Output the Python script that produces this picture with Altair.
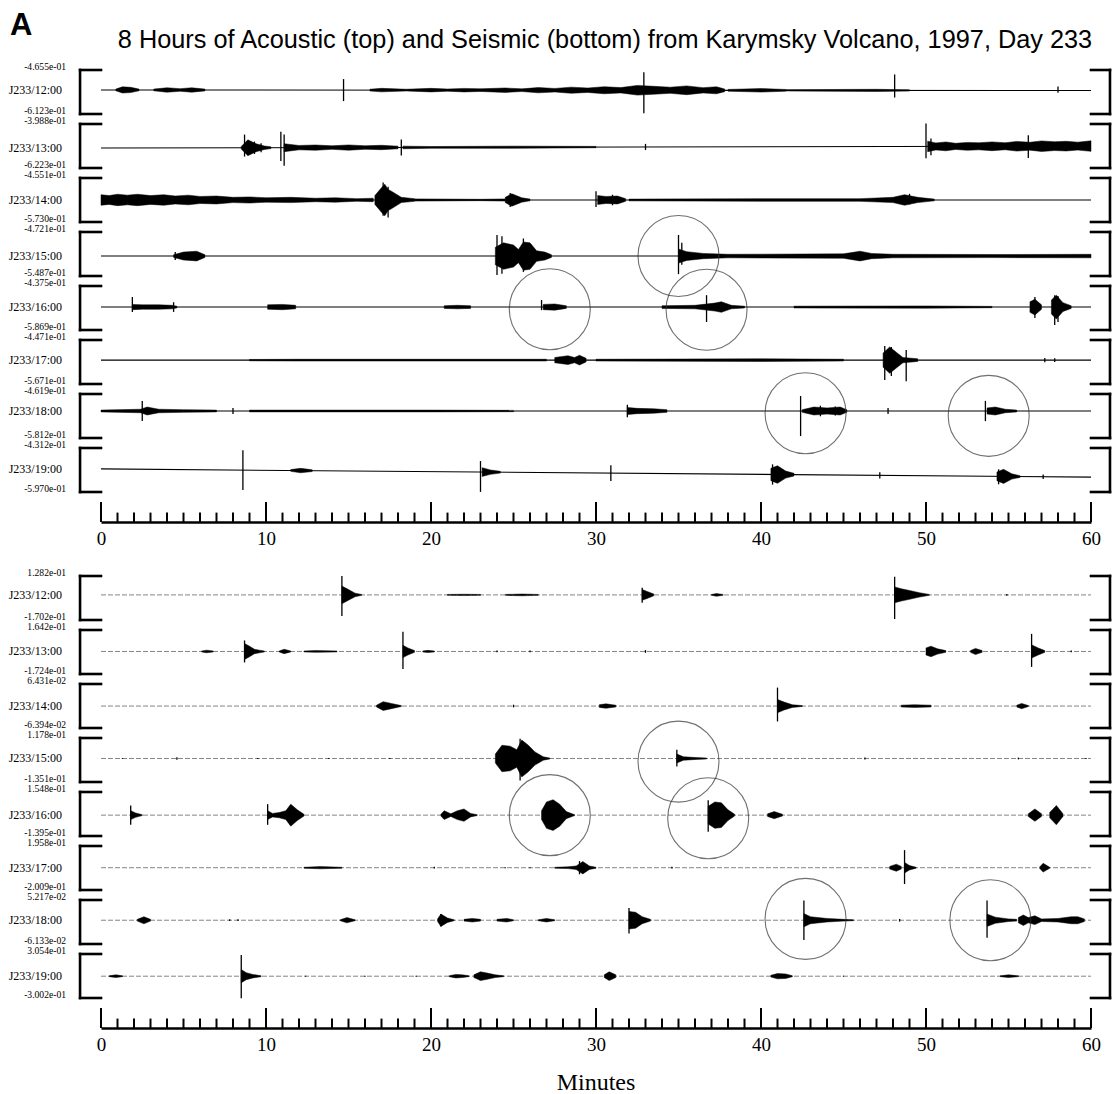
import altair as alt
import pandas as pd

HOURS = ["J233/12:00", "J233/13:00", "J233/14:00", "J233/15:00",
         "J233/16:00", "J233/17:00", "J233/18:00", "J233/19:00"]

# full-scale limits printed beside each trace (top, bottom)
ACOUSTIC_TOP = [-4.655e-01, -3.988e-01, -4.551e-01, -4.721e-01, -4.375e-01, -4.471e-01, -4.619e-01, -4.312e-01]
ACOUSTIC_BOTTOM = [-6.123e-01, -6.223e-01, -5.730e-01, -5.487e-01, -5.869e-01, -5.671e-01, -5.812e-01, -5.970e-01]
SEISMIC_TOP = [1.282e-01, 1.642e-01, 6.431e-02, 1.178e-01, 1.548e-01, 1.958e-01, 5.217e-02, 3.054e-01]
SEISMIC_BOTTOM = [-1.702e-01, -1.724e-01, -6.394e-02, -1.351e-01, -1.395e-01, -2.009e-01, -6.133e-02, -3.002e-01]

# trace offset at minute 0 and minute 60
ACOUSTIC_LEVEL = [(-0.532, -0.534), (-0.521, -0.511), (-0.514, -0.514), (-0.514, -0.514),
                  (-0.509, -0.509), (-0.502, -0.502), (-0.508, -0.508), (-0.510, -0.541)]
SEISMIC_LEVEL = [(0.0, 0.0)] * 8

# impulsive arrivals: (minute, peak above, peak below) in % of the trace's full scale
ACOUSTIC_SPIKES = [
    [(14.7, 25, 25), (32.9, 41, 52), (48.1, 36, 16), (58.0, 9, 5)],
    [(8.7, 30, 20), (9.3, 14, 14), (9.7, 10, 10), (10.9, 36, 30), (11.1, 30, 41), (18.2, 18, 18),
     (33.0, 7, 7), (50.0, 52, 27), (50.3, 18, 20), (56.2, 25, 27), (58.6, 9, 9)],
    [(17.1, 40, 36), (17.4, 30, 40), (24.8, 16, 16), (30.0, 20, 16), (31.0, 12, 12), (49.0, 14, 10)],
    [(4.5, 9, 9), (24.0, 48, 43), (24.3, 45, 40), (25.6, 40, 36), (35.0, 48, 41), (35.2, 30, 20)],
    [(1.9, 23, 11), (4.4, 11, 11), (26.7, 16, 7), (36.7, 27, 34), (56.6, 23, 25), (57.8, 27, 41), (58.0, 25, 34)],
    [(47.5, 32, 45), (47.9, 30, 36), (48.8, 23, 48), (57.2, 5, 5), (57.8, 4, 4)],
    [(2.5, 23, 23), (8.0, 7, 7), (31.9, 14, 14), (42.4, 34, 57), (43.6, 12, 12), (44.5, 10, 10),
     (47.7, 7, 7), (53.6, 23, 23)],
    [(8.6, 45, 45), (23.0, 25, 45), (30.9, 18, 18), (40.7, 23, 23), (47.2, 7, 7), (54.4, 16, 18), (57.1, 5, 5)],
]
SEISMIC_SPIKES = [
    [(14.6, 43, 48), (32.8, 16, 18), (48.1, 41, 55), (54.9, 2, 2)],
    [(8.7, 25, 25), (18.3, 45, 40), (24.0, 2, 2), (26.0, 2, 2), (33.0, 3, 3), (56.4, 40, 35), (58.8, 2, 2)],
    [(25.0, 3, 3), (41.0, 42, 35)],
    [(1.3, 1, 1), (4.6, 3, 3), (9.5, 1, 1), (13.8, 1, 1), (17.5, 1, 1), (25.4, 45, 50), (34.9, 20, 18),
     (46.3, 2, 2), (55.6, 2, 2), (59.7, 1, 1)],
    [(1.8, 22, 22), (10.1, 25, 22), (36.8, 34, 38)],
    [(20.2, 2, 2), (24.5, 1, 1), (26.0, 1, 1), (29.0, 15, 15), (34.6, 2, 2), (48.7, 40, 37)],
    [(7.8, 2, 2), (8.3, 2, 2), (20.6, 14, 14), (32.0, 28, 30), (42.6, 45, 45), (48.4, 3, 3), (53.7, 45, 40)],
    [(8.5, 48, 50), (12.4, 1, 1), (16.0, 1, 1), (19.1, 1, 1), (45.0, 1, 1)],
]

# signal envelopes: each burst is a list of (minute, half-amplitude in % of full scale)
ACOUSTIC_BURSTS = [
    [[(0.9, 2), (1.3, 7), (1.8, 6), (2.3, 2)],
     [(3.2, 2), (4.0, 5), (4.8, 3), (5.5, 5), (6.3, 2)],
     [(16.3, 2), (17.0, 4), (18.5, 2), (20.0, 4), (21.0, 2.5), (22.0, 4), (23.0, 3)],
     [(23.0, 3), (24.5, 5), (25.5, 3), (26.5, 6), (27.5, 4), (28.5, 7), (29.5, 5), (30.5, 8), (31.5, 6),
      (32.5, 11), (33.5, 9), (34.5, 7), (35.5, 10), (36.5, 6), (37.3, 8), (37.8, 3)],
     [(38.0, 2), (40.0, 4), (41.5, 2)],
     [(41.5, 1.5), (47.0, 2.5), (49.0, 1.5)]],
    [[(8.5, 3), (8.9, 18), (9.4, 9), (9.9, 4), (10.3, 2)],
     [(11.1, 9), (12.0, 5), (13.0, 6), (14.0, 4), (15.0, 6), (16.0, 4), (17.0, 5), (18.0, 3)],
     [(18.3, 3), (20.0, 2), (25.0, 2.5), (30.0, 1.5)],
     [(50.1, 12), (50.6, 8), (51.2, 10), (51.8, 7), (52.5, 9), (53.2, 8), (54.0, 10), (54.8, 8), (55.5, 11),
      (56.3, 9), (57.0, 12), (57.8, 10), (58.5, 11), (59.2, 9), (60.0, 12)]],
    [[(0.0, 12), (0.5, 10), (1.0, 13), (1.6, 11), (2.2, 13), (3.0, 10), (3.8, 12), (4.5, 9), (5.3, 11),
      (6.0, 8), (7.0, 9), (8.0, 6), (9.0, 7), (10.0, 5), (11.5, 6), (13.0, 4), (14.2, 5), (15.5, 3), (16.5, 4)],
     [(16.6, 10), (17.0, 28), (17.2, 36), (17.4, 24), (17.6, 20), (18.2, 6), (19.0, 3)],
     [(19.0, 2.5), (23.0, 1.5), (24.5, 2.5)],
     [(24.5, 6), (24.9, 14), (25.5, 5), (26.0, 2)],
     [(30.1, 10), (30.6, 8), (31.3, 9), (31.8, 3)],
     [(32.0, 2), (40.0, 3), (46.0, 3), (48.0, 6), (48.7, 12), (49.5, 6), (50.5, 2)]],
    [[(4.4, 3), (5.0, 9), (5.8, 11), (6.3, 3)],
     [(23.9, 20), (24.4, 30), (25.0, 25), (25.3, 15), (25.6, 32), (26.0, 30), (26.4, 12), (26.9, 9), (27.3, 3)],
     [(35.0, 16), (35.5, 10), (36.5, 6), (38.0, 4), (45.0, 5), (46.0, 11), (46.7, 6), (48.0, 4), (54.0, 3.5), (60.0, 4)]],
    [[(1.9, 6), (2.5, 5), (3.5, 5), (4.3, 4), (4.6, 2)],
     [(10.1, 5), (11.0, 6), (11.8, 4)],
     [(20.8, 3), (21.6, 4), (22.4, 3)],
     [(26.8, 6), (27.5, 7), (28.2, 3)],
     [(34.0, 3), (36.0, 4), (37.2, 9), (37.6, 12), (38.2, 4), (39.0, 2)],
     [(42.0, 2), (50.0, 2.5), (54.0, 1.5)],
     [(56.3, 12), (56.6, 18), (57.0, 5)],
     [(57.6, 16), (57.9, 27), (58.3, 10), (58.8, 3)]],
    [[(9.0, 1.5), (12.0, 2), (20.0, 2), (27.0, 2)],
     [(27.5, 6), (28.3, 10), (28.7, 6), (29.0, 11), (29.4, 4)],
     [(30.0, 2), (40.0, 3), (45.0, 2)],
     [(47.4, 16), (47.8, 30), (48.2, 18), (48.6, 6), (49.5, 3)]],
    [[(0.0, 2), (2.4, 4), (2.8, 9), (3.5, 4), (5.0, 3), (7.0, 2)],
     [(9.0, 2), (15.0, 2), (20.0, 2), (25.0, 1.5)],
     [(31.9, 8), (32.5, 6), (33.5, 5), (34.3, 3)],
     [(42.5, 3), (43.2, 9), (44.0, 7), (44.8, 9), (45.2, 3)],
     [(53.7, 7), (54.2, 9), (54.8, 4), (55.5, 2)]],
    [[(11.5, 2), (12.1, 5), (12.8, 2)],
     [(23.1, 10), (23.6, 5), (24.2, 2)],
     [(40.6, 14), (41.0, 20), (41.5, 8), (42.0, 3)],
     [(54.3, 10), (54.7, 16), (55.2, 6), (55.7, 2)]],
]
SEISMIC_BURSTS = [
    [[(14.6, 20), (15.0, 12), (15.4, 4), (15.8, 1)],
     [(21.0, 1), (22.0, 1.5), (23.0, 1)],
     [(24.5, 1), (25.5, 2), (26.5, 1)],
     [(32.8, 12), (33.1, 8), (33.5, 2)],
     [(37.0, 1), (37.3, 3), (37.7, 1)],
     [(48.1, 18), (48.5, 14), (49.0, 10), (49.6, 5), (50.2, 1)]],
    [[(6.1, 1), (6.4, 3), (6.8, 1)],
     [(8.7, 18), (9.0, 12), (9.3, 5), (9.6, 3), (9.9, 1)],
     [(10.8, 1), (11.1, 5), (11.5, 1)],
     [(12.3, 1), (13.0, 2), (14.3, 1)],
     [(18.3, 14), (18.6, 8), (19.0, 2)],
     [(19.5, 1), (19.8, 2.5), (20.2, 1)],
     [(50.0, 8), (50.3, 12), (50.7, 6), (51.2, 2)],
     [(52.7, 2), (53.0, 7), (53.4, 2)],
     [(56.4, 15), (56.8, 8), (57.2, 2)]],
    [[(16.7, 2), (17.1, 10), (17.6, 6), (18.2, 1)],
     [(30.2, 3), (30.6, 5), (31.2, 2)],
     [(41.0, 15), (41.4, 9), (41.9, 3), (42.5, 1)],
     [(48.5, 2), (49.3, 3), (50.3, 2)],
     [(55.5, 2), (55.8, 6), (56.2, 1)]],
    [[(23.9, 10), (24.3, 30), (24.8, 28), (25.2, 20), (25.5, 42), (25.9, 30), (26.3, 15), (26.8, 4), (27.2, 1)],
     [(34.9, 10), (35.3, 4), (36.1, 2), (36.7, 1)]],
    [[(1.8, 10), (2.1, 5), (2.5, 1)],
     [(10.1, 10), (10.4, 4), (10.8, 6), (11.2, 10), (11.5, 25), (11.9, 12), (12.3, 2)],
     [(20.6, 2), (20.8, 10), (21.2, 3), (21.6, 10), (22.0, 14), (22.4, 4), (22.8, 1)],
     [(26.7, 10), (27.0, 30), (27.4, 35), (27.8, 25), (28.2, 8), (28.7, 1)],
     [(36.8, 20), (37.2, 30), (37.6, 28), (38.0, 12), (38.4, 2)],
     [(40.4, 3), (40.8, 8), (41.3, 2)],
     [(56.2, 3), (56.6, 14), (57.0, 3)],
     [(57.5, 6), (57.9, 22), (58.3, 3)]],
    [[(12.3, 1), (13.3, 2.5), (14.6, 1)],
     [(27.5, 1), (28.3, 2), (28.8, 4), (29.2, 14), (29.6, 4), (30.0, 1)],
     [(47.8, 3), (48.2, 8), (48.5, 3)],
     [(48.7, 12), (49.0, 5), (49.4, 1)],
     [(56.9, 2), (57.1, 10), (57.5, 1)]],
    [[(2.2, 2), (2.6, 8), (3.0, 2)],
     [(14.5, 1), (14.9, 6), (15.4, 1)],
     [(20.4, 3), (20.6, 14), (21.0, 5), (21.4, 1)],
     [(22.0, 2), (22.5, 4), (23.0, 2)],
     [(24.0, 2), (24.6, 4), (25.0, 1)],
     [(26.5, 1), (27.0, 4), (27.5, 1)],
     [(32.0, 20), (32.4, 18), (32.8, 8), (33.3, 2)],
     [(42.6, 15), (43.0, 8), (44.0, 4), (45.0, 2), (45.6, 1)],
     [(53.7, 14), (54.2, 7), (55.0, 3), (55.5, 2)],
     [(55.6, 6), (55.9, 12), (56.2, 6), (56.6, 10), (57.0, 3), (58.0, 4), (58.8, 8), (59.2, 8), (59.6, 3)]],
    [[(0.5, 1), (0.9, 3), (1.3, 1)],
     [(8.5, 15), (8.8, 8), (9.2, 4), (9.7, 1)],
     [(21.1, 1), (21.5, 4), (21.9, 3), (22.3, 1)],
     [(22.6, 3), (23.0, 10), (23.4, 7), (23.9, 3), (24.4, 1)],
     [(30.5, 3), (30.8, 10), (31.2, 3)],
     [(40.6, 2), (41.0, 6), (41.5, 5), (41.9, 1)],
     [(54.5, 1), (55.0, 3), (55.6, 1)]],
]

# events marked with a circle: (trace index, minute, vertical offset in % of full scale)
ACOUSTIC_CIRCLES = [(3, 35.0, 0), (4, 27.2, -5), (4, 36.7, -6), (6, 42.7, -5), (6, 53.8, -11)]
SEISMIC_CIRCLES = [(3, 35.0, -7), (4, 27.2, 0), (4, 36.8, -7), (6, 42.7, 3), (6, 53.9, 0)]

TITLE = "8 Hours of Acoustic (top) and Seismic (bottom) from Karymsky Volcano, 1997, Day 233"
MINUTE_LABELS = [0, 10, 20, 30, 40, 50, 60]

SERIF = "Liberation Serif"
SANS = "Liberation Sans"
PLOT_W = 990
ROW_H = 44
AXIS_H = 20
GAP_H = 34          # blank band between the two panels
BRACKET_L = -1.27   # bracket spine, in minutes left of the time origin
BRACKET_R = 61.15

xscale = alt.Scale(domain=[0, 60], nice=False, zero=False)


def trace_chart(i, top, bottom, level, spikes, bursts, circles, seismic, first=False):
    span = top - bottom
    lv0, lv1 = level

    def lev(t):
        return lv0 + (lv1 - lv0) * t / 60.0

    yscale = alt.Scale(domain=[bottom, top], nice=False, zero=False)
    X = lambda f: alt.X(f, type="quantitative", scale=xscale, axis=None)
    Y = lambda f: alt.Y(f, type="quantitative", scale=yscale, axis=None)

    layers = []
    if first:
        frame = pd.DataFrame({"k": [0]})
        layers.append(alt.Chart(frame).mark_rect(opacity=0).encode(
            x=alt.value(-101), x2=alt.value(1011), y=alt.value(-70), y2=alt.value(1024)))
        layers.append(alt.Chart(frame).mark_text(
            text="A", font=SANS, fontSize=31, fontWeight="bold", align="left",
            baseline="alphabetic", color="black").encode(x=alt.value(-91), y=alt.value(-35)))
        layers.append(alt.Chart(frame).mark_text(
            text=TITLE, font=SANS, fontSize=25.3, align="center",
            baseline="alphabetic", color="black").encode(x=alt.value(504), y=alt.value(-22)))

    base = pd.DataFrame({"t": [0, 60], "v": [lv0, lv1]})
    if seismic:
        line = alt.Chart(base).mark_line(color="#777", strokeWidth=0.9, strokeDash=[5, 2])
    else:
        line = alt.Chart(base).mark_line(color="black", strokeWidth=1.1)
    layers.append(line.encode(x=X("t"), y=Y("v")))

    env = []
    for k, seg in enumerate(bursts):
        for t, a in seg:
            c = lev(t)
            env.append({"seg": k, "t": t, "hi": c + a / 100 * span, "lo": c - a / 100 * span})
    layers.append(alt.Chart(pd.DataFrame(env)).mark_area(
        color="black", stroke="black", strokeWidth=0.5, interpolate="linear").encode(
        x=X("t"), y=Y("hi"), y2="lo", detail="seg:N"))

    sp = pd.DataFrame([{"t": t, "hi": lev(t) + u / 100 * span, "lo": lev(t) - d / 100 * span}
                       for t, u, d in spikes])
    layers.append(alt.Chart(sp).mark_rule(color="black", strokeWidth=1.3).encode(
        x=X("t"), y=Y("hi"), y2="lo"))

    br = pd.DataFrame([
        {"x": BRACKET_L, "x2": BRACKET_L, "y": top, "y2": bottom},
        {"x": BRACKET_L, "x2": 0, "y": top, "y2": top},
        {"x": BRACKET_L, "x2": 0, "y": bottom, "y2": bottom},
        {"x": BRACKET_R, "x2": BRACKET_R, "y": top, "y2": bottom},
        {"x": 60, "x2": BRACKET_R, "y": top, "y2": top},
        {"x": 60, "x2": BRACKET_R, "y": bottom, "y2": bottom},
    ])
    layers.append(alt.Chart(br).mark_rule(color="black", strokeWidth=2.6, strokeCap="square").encode(
        x=X("x"), x2="x2", y=Y("y"), y2="y2"))

    lab = pd.DataFrame({"v": [top, bottom], "txt": ["%.3e" % top, "%.3e" % bottom]})
    layers.append(alt.Chart(lab).mark_text(
        font=SERIF, fontSize=9.6, align="right", baseline="alphabetic", color="black").encode(
        x=alt.value(-35), y=Y("v"), text="txt:N"))

    hr = pd.DataFrame({"v": [lv0], "txt": [HOURS[i]]})
    layers.append(alt.Chart(hr).mark_text(
        font=SERIF, fontSize=12, align="right", baseline="middle", color="black").encode(
        x=alt.value(-39), y=Y("v"), text="txt:N"))

    circ = [{"t": t, "v": lev(t) + o / 100 * span} for r, t, o in circles if r == i]
    if circ:
        layers.append(alt.Chart(pd.DataFrame(circ)).mark_point(
            shape="circle", filled=False, size=6561, color="#333", strokeWidth=1.1).encode(
            x=X("t"), y=Y("v")))

    return alt.layer(*layers).properties(width=PLOT_W, height=ROW_H)


def time_axis(with_title):
    ticks = pd.DataFrame({"t": list(range(61))})
    ticks["len"] = [1.0 if t % 10 == 0 else 0.47 for t in ticks["t"]]
    ticks["zero"] = 0.0
    rules = alt.Chart(ticks).mark_rule(color="black", strokeWidth=2).encode(
        x=alt.X("t:Q", scale=xscale, axis=alt.Axis(
            values=MINUTE_LABELS, format="d", domain=True, domainColor="black", domainWidth=2.6,
            ticks=False, tickSize=0, grid=False, title=None, labelFont=SERIF, labelFontSize=19,
            labelColor="black", labelPadding=7, labelFlush=False, labelOverlap=False)),
        y=alt.Y("zero:Q", scale=alt.Scale(domain=[0, 1]), axis=None),
        y2="len")
    layers = [rules]
    if with_title:
        layers.append(alt.Chart(pd.DataFrame({"k": [0]})).mark_text(
            text="Minutes", font=SERIF, fontSize=24, align="center", baseline="alphabetic",
            color="black").encode(x=alt.value(PLOT_W / 2), y=alt.value(82)))
    return alt.layer(*layers).properties(width=PLOT_W, height=AXIS_H)


def blank_band():
    return alt.Chart(pd.DataFrame({"k": [0]})).mark_rect(opacity=0).encode(
        x=alt.value(0), x2=alt.value(1), y=alt.value(0), y2=alt.value(1)
    ).properties(width=PLOT_W, height=GAP_H)


acoustic_rows = [trace_chart(i, ACOUSTIC_TOP[i], ACOUSTIC_BOTTOM[i], ACOUSTIC_LEVEL[i],
                             ACOUSTIC_SPIKES[i], ACOUSTIC_BURSTS[i], ACOUSTIC_CIRCLES, False, first=(i == 0))
                 for i in range(8)]
seismic_rows = [trace_chart(i, SEISMIC_TOP[i], SEISMIC_BOTTOM[i], SEISMIC_LEVEL[i],
                            SEISMIC_SPIKES[i], SEISMIC_BURSTS[i], SEISMIC_CIRCLES, True)
                for i in range(8)]

panels = acoustic_rows + [time_axis(False), blank_band()] + seismic_rows + [time_axis(True)]

chart = alt.vconcat(*panels, spacing=10, bounds="flush").properties(
    padding=0, background="white"
).configure_view(stroke=None)

chart.save("out.html", embed_options={"renderer": "svg", "actions": False})
